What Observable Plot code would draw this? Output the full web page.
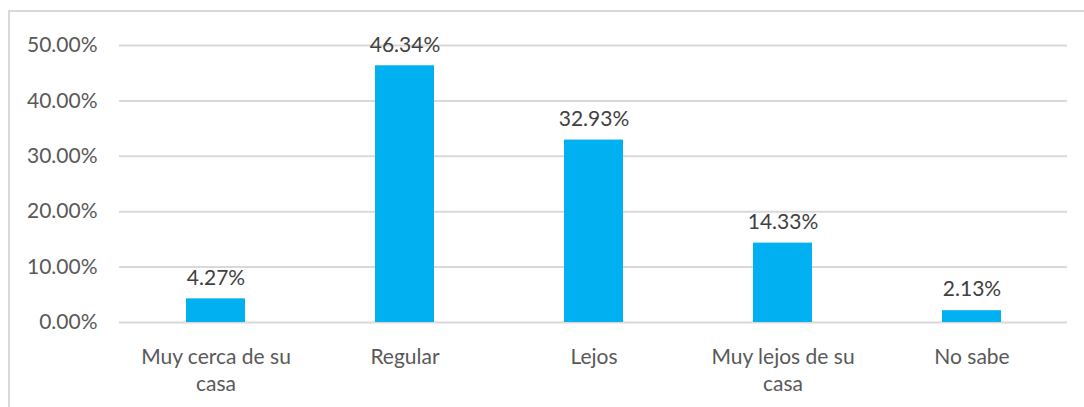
<!DOCTYPE html>
<html>
<head>
<meta charset="utf-8">
<script src="https://cdn.jsdelivr.net/npm/d3@7"></script>
<script src="https://cdn.jsdelivr.net/npm/@observablehq/plot@0.6"></script>
<style>
  html, body { margin: 0; padding: 0; background: #fff; }
  #wrap { position: relative; width: 1084px; height: 407px; overflow: hidden; }
  #frame { position: absolute; left: 8px; top: 10px; width: 1200px; height: 500px;
           border-left: 2px solid #d9d9d9; border-top: 2px solid #d9d9d9; }
  #chart { position: absolute; left: 0; top: 0; }
</style>
</head>
<body>
<div id="wrap"><div id="frame"></div><div id="chart"></div></div>
<script>
const categories = ["Muy cerca de su casa", "Regular", "Lejos", "Muy lejos de su casa", "No sabe"];
const categoryLabels = ["Muy cerca de su\ncasa", "Regular", "Lejos", "Muy lejos de su\ncasa", "No sabe"];
const values = [4.27, 46.34, 32.93, 14.33, 2.13];
const yTicks = [0, 10, 20, 30, 40, 50];

const data = categories.map((c, i) => ({category: c, value: values[i]}));
const labelOf = new Map(categories.map((c, i) => [c, categoryLabels[i]]));
const font = "Lato, 'Open Sans', sans-serif";

const chart = Plot.plot({
  width: 1084,
  height: 407,
  marginLeft: 119,
  marginRight: 17,
  marginTop: 45,
  marginBottom: 85,
  style: {fontFamily: font, fontSize: "21px", color: "#595959", background: "transparent"},
  x: {domain: categories, paddingInner: 0.69, paddingOuter: 0.345, label: null},
  y: {domain: [0, 50], label: null},
  marks: [
    Plot.ruleY(yTicks, {stroke: "#d9d9d9", strokeWidth: 2}),
    Plot.barY(data, {x: "category", y: "value", fill: "#00B0F0"}),
    Plot.text(data, {x: "category", y: "value", text: d => d.value.toFixed(2) + "%",
      dy: -21, fill: "#404040", fontSize: 21, fontFamily: font}),
    Plot.axisY({ticks: yTicks, tickSize: 0, tickPadding: 22, tickFormat: d => d.toFixed(2) + "%",
      fill: "#595959", fontSize: 21, label: null}),
    Plot.axisX({tickSize: 0, tickPadding: 22, tickFormat: d => labelOf.get(d),
      fill: "#595959", fontSize: 21, lineHeight: 1.29, label: null})
  ]
});
document.getElementById("chart").appendChild(chart);
</script>
</body>
</html>
